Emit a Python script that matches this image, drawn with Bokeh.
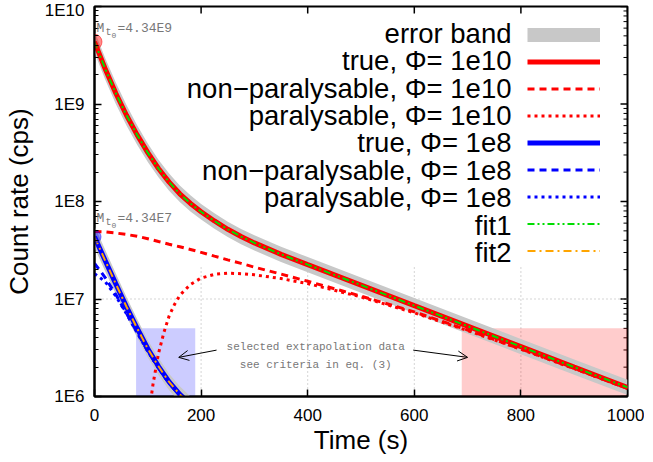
import math
from bokeh.plotting import figure
from bokeh.models import (Range1d, FixedTicker, Legend, LegendItem, Label,
                          Arrow, OpenHead)
from bokeh.embed import file_html
from bokeh.resources import INLINE

# ---------------- data ----------------
time_s = [0, 20, 40, 60, 80, 100, 120, 140, 160, 180, 200, 225, 250, 275,
          300, 350, 400, 500, 600, 700, 800, 900, 1000]
true_1e10 = [4.34e9, 2.30e9, 1.29e9, 7.67e8, 4.82e8, 3.17e8, 2.18e8, 1.58e8,
             1.20e8, 9.55e7, 7.85e7, 6.31e7, 5.19e7, 4.37e7, 3.76e7, 2.87e7,
             2.25e7, 1.39e7, 8.55e6, 5.27e6, 3.25e6, 2.00e6, 1.24e6]
nonpar_1e10 = [4.92e7, 4.88e7, 4.75e7, 4.59e7, 4.40e7, 4.15e7, 3.89e7, 3.65e7,
               3.43e7, 3.22e7, 3.01e7, 2.75e7, 2.52e7, 2.32e7, 2.12e7, 1.80e7,
               1.52e7, 1.07e7, 7.38e6, 4.81e6, 3.07e6, 1.94e6, 1.21e6]
band_dec_1e10 = [0.11, 0.11, 0.11, 0.105, 0.10, 0.095, 0.09, 0.088, 0.085,
                 0.083, 0.08, 0.08, 0.078, 0.078, 0.078, 0.078, 0.078, 0.078,
                 0.078, 0.078, 0.078, 0.078, 0.078]

time_par = [100, 110, 120, 130, 140, 150, 160, 180, 200, 225, 250, 275, 300,
            350, 400, 500, 600, 700, 800, 900, 1000]
par_1e10 = [5.58e5, 1.36e6, 2.75e6, 4.50e6, 6.70e6, 8.77e6, 1.09e7, 1.41e7,
            1.64e7, 1.79e7, 1.84e7, 1.82e7, 1.77e7, 1.62e7, 1.44e7, 1.05e7,
            7.21e6, 4.74e6, 3.05e6, 1.93e6, 1.21e6]

time_lo = [0, 20, 40, 60, 80, 100, 120, 140, 160, 180, 200]
true_1e8 = [4.34e7, 2.48e7, 1.43e7, 8.32e6, 5.01e6, 3.09e6, 2.04e6, 1.41e6,
            1.05e6, 8.32e5, 6.76e5]
nonpar_1e8 = [2.32e7, 1.66e7, 1.11e7, 7.13e6, 4.56e6, 2.91e6, 1.96e6, 1.37e6,
              1.03e6, 8.18e5, 6.68e5]
par_1e8 = [1.82e7, 1.51e7, 1.07e7, 7.05e6, 4.53e6, 2.90e6, 1.96e6, 1.37e6,
           1.03e6, 8.18e5, 6.68e5]
band_dec_1e8 = [0.11, 0.11, 0.105, 0.10, 0.095, 0.09, 0.088, 0.085, 0.083,
                0.08, 0.08]

fit1_rate = true_1e10
fit2_rate = true_1e8

t0_time = [0, 0]
t0_rate = [4.34e9, 4.34e7]
t0_text = ["=4.34E9", "=4.34E7"]

sel_left = [78, 689]
sel_right = [189, 1000]
sel_top = [5e6, 5e6]
sel_bottom = [1e6, 1e6]

x_ticks = [0, 200, 400, 600, 800, 1000]
y_ticks = [1e6, 1e7, 1e8, 1e9, 1e10]
y_tick_labels = ["1E6", "1E7", "1E8", "1E9", "1E10"]
y_minor = [m * d for d in [1e6, 1e7, 1e8, 1e9] for m in range(2, 10)]
grid_x = [200, 400, 600, 800]
grid_top = 2.25e7

legend_labels = ["error band", "true, \u03a6= 1e10", "non\u2212paralysable, \u03a6= 1e10",
                 "paralysable, \u03a6= 1e10", "true, \u03a6= 1e8",
                 "non\u2212paralysable, \u03a6= 1e8", "paralysable, \u03a6= 1e8",
                 "fit1", "fit2"]

note_lines = ["selected extrapolation data", "see criteria in eq. (3)"]
note_x = 415
note_y = [3.25e6, 2.1e6]
arrows = [(229, 2.99e6, 158, 2.52e6), (598, 2.99e6, 700, 2.52e6)]

# ---------------- figure ----------------
FONT = "Liberation Sans"
p = figure(width=644, height=457, y_axis_type="log",
           x_range=Range1d(0, 1000), y_range=Range1d(1e6, 1e10),
           output_backend="svg", toolbar_location=None,
           min_border_left=87, min_border_right=17, min_border_top=6,
           min_border_bottom=58)
p.outline_line_color = "black"
p.outline_line_width = 2
p.xgrid.visible = False
p.ygrid.visible = False

xt = FixedTicker(ticks=x_ticks)
yt = FixedTicker(ticks=y_ticks, minor_ticks=y_minor)

p.xaxis.ticker = xt
p.yaxis.ticker = yt
p.yaxis.major_label_overrides = {v: s for v, s in zip(y_ticks, y_tick_labels)}
for ax in (p.xaxis[0], p.yaxis[0]):
    ax.major_tick_in = 7
    ax.major_tick_out = 0
    ax.minor_tick_in = 4
    ax.minor_tick_out = 0
    ax.axis_line_width = 2
    ax.major_tick_line_width = 1.5
    ax.major_label_text_font = FONT
    ax.major_label_text_font_size = "17px"
    ax.major_label_text_color = "black"
    ax.axis_label_text_font = FONT
    ax.axis_label_text_font_size = "26px"
    ax.axis_label_text_font_style = "normal"
    ax.axis_label_text_color = "black"
p.xaxis.minor_tick_line_color = None
p.xaxis.major_label_standoff = 12
p.yaxis.major_label_standoff = 10
p.xaxis.axis_label = "Time (s)"
p.yaxis.axis_label = "Count rate (cps)"
p.xaxis.axis_label_standoff = 1
p.yaxis.axis_label_standoff = 8

# mirrored inward ticks on top and right edges
p.scatter(x=x_ticks, y=[1e10] * len(x_ticks), marker="dash", angle=math.pi / 2,
          size=14, line_color="black", line_width=1.5)
p.scatter(x=[1000] * len(y_ticks), y=y_ticks, marker="dash", size=14,
          line_color="black", line_width=1.5)
p.scatter(x=[1000] * len(y_minor), y=y_minor, marker="dash", size=8,
          line_color="black", line_width=1)

# grid (hidden behind the key area in the original)
p.segment(x0=grid_x, y0=[1e6] * len(grid_x), x1=grid_x, y1=[grid_top] * len(grid_x),
          line_color="#aaaaaa", line_width=1, line_dash="1 3")
p.segment(x0=[0], y0=[1e7], x1=[1000], y1=[1e7],
          line_color="#aaaaaa", line_width=1, line_dash="1 3")

# selection windows
p.quad(left=sel_left[:1], right=sel_right[:1], top=sel_top[:1], bottom=sel_bottom[:1],
       fill_color="#0000ff", fill_alpha=0.2, line_color=None)
p.quad(left=sel_left[1:], right=sel_right[1:], top=sel_top[1:], bottom=sel_bottom[1:],
       fill_color="#ff0000", fill_alpha=0.2, line_color=None)

# error bands
def band(vals, hw, sign):
    return [v * 10 ** (sign * h) for v, h in zip(vals, hw)]

p.varea(x=time_s, y1=band(true_1e10, band_dec_1e10, -1),
        y2=band(true_1e10, band_dec_1e10, 1), fill_color="#c8c8c8")
p.varea(x=time_lo, y1=band(true_1e8, band_dec_1e8, -1),
        y2=band(true_1e8, band_dec_1e8, 1), fill_color="#c8c8c8")
# key sample for the band (thick grey line, outside the visible range)
r_band = p.line(x=[-10, -5], y=[1e3, 1e3], line_color="#c8c8c8", line_width=14)

RED, BLUE = "#ff0000", "#0000ff"
r_t10 = p.line(time_s, true_1e10, line_color=RED, line_width=5)
r_n10 = p.line(time_s, nonpar_1e10, line_color=RED, line_width=3, line_dash="7 5")
r_p10 = p.line(time_par, par_1e10, line_color=RED, line_width=3, line_dash="3 4")
r_t8 = p.line(time_lo, true_1e8, line_color=BLUE, line_width=5)
r_n8 = p.line(time_lo, nonpar_1e8, line_color=BLUE, line_width=3, line_dash="7 5")
r_p8 = p.line(time_lo, par_1e8, line_color=BLUE, line_width=3, line_dash="3 4")
r_f1 = p.line(time_s, fit1_rate, line_color="#00dd00", line_width=2,
              line_dash="7 3 2 3 2 3")
r_f2 = p.line(time_lo, fit2_rate, line_color="#ffa500", line_width=2,
              line_dash="8 4 2 4")

p.scatter(x=t0_time[:1], y=t0_rate[:1], size=15, fill_color=RED, fill_alpha=0.45,
          line_color=RED, line_alpha=0.5)
p.scatter(x=t0_time[1:], y=t0_rate[1:], size=13, fill_color=BLUE, fill_alpha=0.45,
          line_color=BLUE, line_alpha=0.5)

# M_t0 labels (screen units, measured from the frame's bottom-left corner)
MONO = "Liberation Mono"
GREY = "#777777"
for sy, txt in zip([368, 178], t0_text):
    kw = dict(x_units="screen", y_units="screen", text_font=MONO,
              text_color=GREY, text_baseline="middle")
    p.add_layout(Label(x=2, y=sy, text="M", text_font_size="13px", **kw))
    p.add_layout(Label(x=11, y=sy - 4, text="t", text_font_size="10px", **kw))
    p.add_layout(Label(x=17, y=sy - 7, text="0", text_font_size="8px", **kw))
    p.add_layout(Label(x=23, y=sy, text=txt, text_font_size="13px", **kw))

for ny, line in zip(note_y, note_lines):
    p.add_layout(Label(x=note_x, y=ny, text=line, text_font=MONO,
                       text_font_size="11px", text_color=GREY,
                       text_align="center", text_baseline="middle"))
for xs, ys, xe, ye in arrows:
    p.add_layout(Arrow(end=OpenHead(size=10, line_width=1), x_start=xs, y_start=ys,
                       x_end=xe, y_end=ye, line_width=1, line_color="black"))

# key: samples on the right, texts right-aligned to their left
renderers = [r_band, r_t10, r_n10, r_p10, r_t8, r_n8, r_p8, r_f1, r_f2]
legend = Legend(items=[LegendItem(label=" ", renderers=[r]) for r in renderers],
                location=(433, 132), glyph_width=73, glyph_height=27,
                label_height=27, label_width=27, label_standoff=0, padding=0,
                margin=0, spacing=0, background_fill_alpha=0,
                border_line_alpha=0, label_text_font_size="10px")
p.add_layout(legend)
for i, lab in enumerate(legend_labels):
    p.add_layout(Label(x=417, y=363 - 27.37 * i, x_units="screen", y_units="screen",
                       text=lab, text_font=FONT, text_font_size="27.5px",
                       text_color="black", text_align="right",
                       text_baseline="middle"))

open("out.html", "w").write(file_html(p, INLINE))
